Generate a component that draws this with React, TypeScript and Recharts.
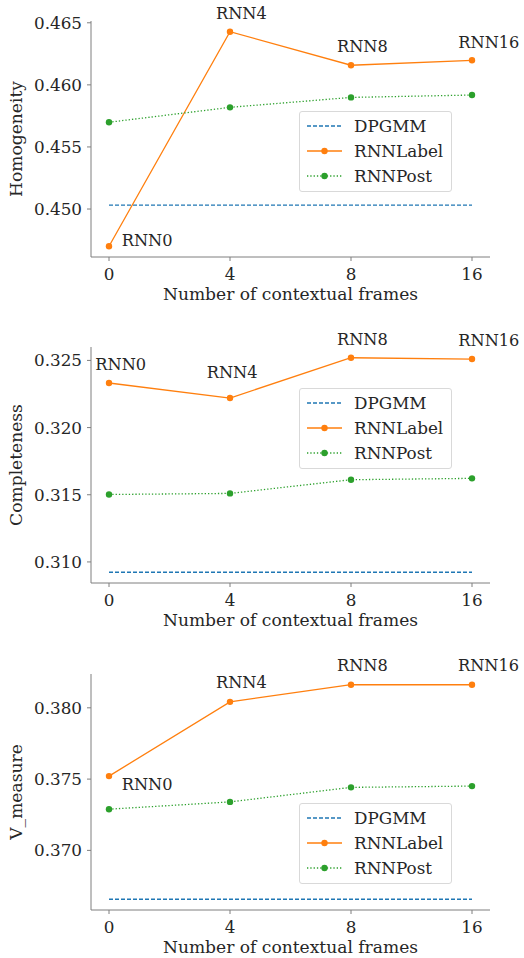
import React from "react";
import {
  LineChart,
  Line,
  XAxis,
  YAxis,
  Legend,
  LabelList,
} from "recharts";

const frames = ["0", "4", "8", "16"];
const rnnNames = ["RNN0", "RNN4", "RNN8", "RNN16"];

const homoDpgmm = [0.45032, 0.45032, 0.45032, 0.45032];
const homoLabel = [0.447, 0.46428, 0.46158, 0.46198];
const homoPost = [0.45699, 0.45819, 0.45899, 0.45918];
const homoTicks = [0.45, 0.455, 0.46, 0.465];

const compDpgmm = [0.30923, 0.30923, 0.30923, 0.30923];
const compLabel = [0.32332, 0.3222, 0.3252, 0.3251];
const compPost = [0.31502, 0.3151, 0.31612, 0.31622];
const compTicks = [0.31, 0.315, 0.32, 0.325];

const vDpgmm = [0.36657, 0.36657, 0.36657, 0.36657];
const vLabel = [0.37521, 0.38042, 0.38162, 0.38162];
const vPost = [0.37289, 0.3734, 0.37442, 0.37451];
const vTicks = [0.37, 0.375, 0.38];

const FONT = "'DejaVu Serif', serif";
const TEXT = "#262626";
const SPINE = "#7f7f7f";
const BLUE = "#1f77b4";
const ORANGE = "#ff7f0e";
const GREEN = "#2ca02c";
const TICK_FS = 16.8;
const LABEL_FS = 17.1;
const NOTE_FS = 16.2;

// matplotlib-like 5% margins
function pad(values: number[]): [number, number] {
  const lo = Math.min(...values);
  const hi = Math.max(...values);
  const m = (hi - lo) * 0.05;
  return [lo - m, hi + m];
}

type Offset = { dx: number; dy: number };

function LegendBox() {
  const rows = [
    { name: "DPGMM", color: BLUE, dash: "4 2", dot: false },
    { name: "RNNLabel", color: ORANGE, dash: undefined, dot: true },
    { name: "RNNPost", color: GREEN, dash: "1.3 2", dot: true },
  ];
  return (
    <div
      style={{
        width: 151,
        height: 79,
        border: "1px solid #d9d9d9",
        borderRadius: 3,
        background: "rgba(255,255,255,0.85)",
        fontFamily: FONT,
        fontSize: TICK_FS,
        color: TEXT,
        position: "relative",
      }}
    >
      {rows.map((r, i) => (
        <div
          key={r.name}
          style={{
            position: "absolute",
            left: 0,
            top: 2 + i * 25,
            height: 24,
            display: "flex",
            alignItems: "center",
          }}
        >
          <svg width={54} height={24}>
            <line
              x1={7}
              x2={42}
              y1={12}
              y2={12}
              stroke={r.color}
              strokeWidth={1.4}
              strokeDasharray={r.dash}
            />
            {r.dot && <circle cx={24.5} cy={12} r={3.2} fill={r.color} />}
          </svg>
          <span style={{ lineHeight: "24px", whiteSpace: "nowrap" }}>{r.name}</span>
        </div>
      ))}
    </div>
  );
}

function Panel({
  top,
  yLabel,
  dpgmm,
  label,
  post,
  ticks,
  offsets,
  legendTop,
}: {
  top: number;
  yLabel: string;
  dpgmm: number[];
  label: number[];
  post: number[];
  ticks: number[];
  offsets: Offset[];
  legendTop: number;
}) {
  const data = frames.map((f, i) => ({
    frame: f,
    name: rnnNames[i],
    dpgmm: dpgmm[i],
    label: label[i],
    post: post[i],
  }));
  const domain = pad([...dpgmm, ...label, ...post]);

  return (
    <div style={{ position: "absolute", left: 0, top }}>
      <LineChart
        width={524}
        height={305}
        data={data}
        margin={{ top: 21, right: 34, bottom: 5, left: 0 }}
        style={{ fontFamily: FONT }}
      >
        <XAxis
          dataKey="frame"
          padding={{ left: 18, right: 18 }}
          height={43}
          stroke={SPINE}
          tickSize={4}
          tickMargin={7}
          tick={{ fill: TEXT, fontSize: TICK_FS, fontFamily: FONT }}
          label={{
            value: "Number of contextual frames",
            position: "insideBottom",
            offset: 0,
            fill: TEXT,
            fontSize: LABEL_FS,
            fontFamily: FONT,
          }}
        />
        <YAxis
          width={91}
          type="number"
          domain={domain}
          allowDataOverflow
          ticks={ticks}
          tickFormatter={(v: number) => v.toFixed(3)}
          stroke={SPINE}
          tickSize={4}
          tickMargin={5}
          tick={{ fill: TEXT, fontSize: TICK_FS, fontFamily: FONT }}
          label={{
            value: yLabel,
            angle: -90,
            position: "insideLeft",
            offset: 16,
            fill: TEXT,
            fontSize: LABEL_FS,
            fontFamily: FONT,
            style: { textAnchor: "middle" },
          }}
        />
        <Legend
          layout="vertical"
          align="center"
          verticalAlign="middle"
          wrapperStyle={{ left: 299, top: legendTop, width: 153, height: 81 }}
          content={() => <LegendBox />}
        />
        <Line
          dataKey="dpgmm"
          name="DPGMM"
          stroke={BLUE}
          strokeWidth={1.3}
          strokeDasharray="4 2"
          dot={false}
          activeDot={false}
          isAnimationActive={false}
        />
        <Line
          dataKey="label"
          name="RNNLabel"
          stroke={ORANGE}
          strokeWidth={1.3}
          dot={{ r: 3.2, fill: ORANGE, stroke: "none" }}
          activeDot={false}
          isAnimationActive={false}
        >
          <LabelList
            dataKey="name"
            content={(p: any) => {
              const o = offsets[p.index] || { dx: 0, dy: 0 };
              return (
                <text
                  x={p.x + o.dx}
                  y={p.y + o.dy}
                  fill={TEXT}
                  fontSize={NOTE_FS}
                  fontFamily={FONT}
                  textAnchor="start"
                >
                  {p.value}
                </text>
              );
            }}
          />
        </Line>
        <Line
          dataKey="post"
          name="RNNPost"
          stroke={GREEN}
          strokeWidth={1.3}
          strokeDasharray="1.3 2"
          dot={{ r: 3.2, fill: GREEN, stroke: "none" }}
          activeDot={false}
          isAnimationActive={false}
        />
      </LineChart>
    </div>
  );
}

export default function App() {
  return (
    <div
      style={{
        position: "absolute",
        left: 0,
        top: 0,
        width: 524,
        height: 958,
        background: "#fff",
        overflow: "hidden",
      }}
    >
      <Panel
        top={0}
        yLabel="Homogeneity"
        dpgmm={homoDpgmm}
        label={homoLabel}
        post={homoPost}
        ticks={homoTicks}
        legendTop={111}
        offsets={[
          { dx: 12.7, dy: 0 },
          { dx: -14, dy: -12.3 },
          { dx: -14, dy: -13 },
          { dx: -13.7, dy: -12.6 },
        ]}
      />
      <Panel
        top={326}
        yLabel="Completeness"
        dpgmm={compDpgmm}
        label={compLabel}
        post={compPost}
        ticks={compTicks}
        legendTop={62}
        offsets={[
          { dx: -13.7, dy: -13 },
          { dx: -23.3, dy: -20 },
          { dx: -14, dy: -13 },
          { dx: -13.7, dy: -13 },
        ]}
      />
      <Panel
        top={653}
        yLabel="V_measure"
        dpgmm={vDpgmm}
        label={vLabel}
        post={vPost}
        ticks={vTicks}
        legendTop={150}
        offsets={[
          { dx: 12.7, dy: 14 },
          { dx: -14, dy: -14 },
          { dx: -14, dy: -14 },
          { dx: -14, dy: -14 },
        ]}
      />
    </div>
  );
}
